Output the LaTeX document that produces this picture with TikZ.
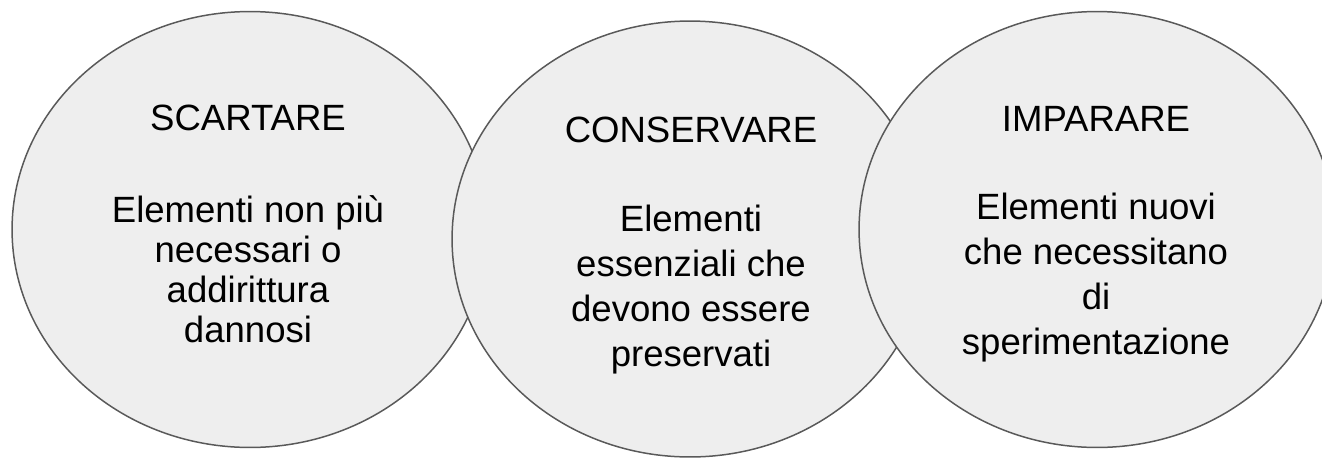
\documentclass[tikz,border=0pt]{standalone}
\usepackage{fontspec}
\setmainfont{Liberation Sans}
\usepackage{tikz}
\usetikzlibrary{shapes,positioning}

\definecolor{blobfill}{HTML}{EEEEEE}
\definecolor{blobline}{HTML}{595959}

\begin{document}
\begin{tikzpicture}[x=0.02cm,y=-0.02cm,semithick]
\tikzstyle{blob}=[ellipse,draw=blobline,fill=blobfill,line width=0.85pt,inner sep=0pt,minimum width=9.52cm,minimum height=8.72cm]
\tikzstyle{blobtext}=[align=center,text=black,inner sep=0pt,font=\fontsize{20.8pt}{25.6pt}\selectfont]
\useasboundingbox (0,0) rectangle (1322,457);
% the three sets, left to right
\node[blob] (scartare) at (250,229.5) {};
\node[blob] (conservare) at (690,239) {};
\node[blob] (imparare) at (1097,229.5) {};
% their texts
\node[blobtext,font=\fontsize{20.8pt}{22.8pt}\selectfont] (scartareT) at (248,224)
  {SCARTARE\\[1.03cm]Elementi non più\\necessari o\\addirittura\\dannosi};
\node[blobtext] (conservareT) at (691,245.5)
  {CONSERVARE\\[0.89cm]Elementi\\essenziali che\\devono essere\\preservati};
\node[blobtext] (imparareT) at (1096,234)
  {IMPARARE\\[0.87cm]Elementi nuovi\\che necessitano\\di\\sperimentazione};
\end{tikzpicture}
\end{document}
